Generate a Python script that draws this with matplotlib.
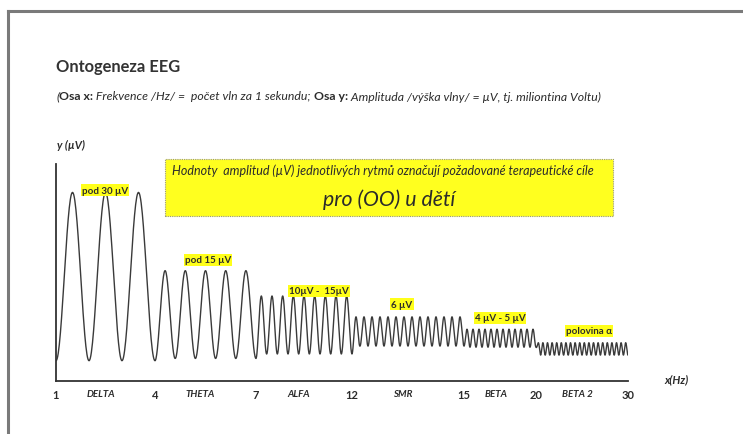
import numpy as np
import matplotlib
matplotlib.use("Agg")
import matplotlib.pyplot as plt
from matplotlib.patches import Rectangle
from matplotlib.lines import Line2D
import matplotlib.transforms as mtransforms

# ---------------- data ----------------
tick_hz = [1, 4, 7, 12, 15, 20, 30]
tick_labels = ["1", "4", "7", "12", "15", "20", "30"]
bands = ["DELTA", "THETA", "ALFA", "SMR", "BETA", "BETA 2"]
band_cycles = [3, 5, 9, 14, 12, 20]          # drawn waves per band
band_low = [3.6, 4.0, 4.8, 6.2, 6.0, 4.6]     # wave trough (µV)
band_high = [33.5, 19.6, 15.1, 11.4, 9.2, 6.8]  # wave crest (µV)
band_notes = ["pod 30 µV", "pod 15 µV", "10µV -  15µV", "6 µV", "4 µV - 5 µV", "polovina α"]

# ---------------- figure ----------------
W, H = 743, 435
fig = plt.figure(figsize=(W / 100, H / 100), dpi=100)
fig.patch.set_facecolor("white")
FONT = ["Lato", "DejaVu Sans"]
TXT = "#2b2b2b"

def fx(x):
    return x / W

def fy(y):
    return 1 - y / H

# page border (scan frame)
fig.add_artist(Line2D([fx(8), fx(8)], [fy(12), fy(435)], color="#7a7a7a", lw=2.2))
fig.add_artist(Line2D([fx(8), fx(743)], [fy(12), fy(12)], color="#7a7a7a", lw=2.2))

# titles
fig.text(fx(56), fy(67), "Ontogeneza EEG", fontsize=11.9, fontweight="bold",
         family=FONT, color="#333333", va="center", ha="left")
sub_parts = [("(", "normal", "italic"), ("Osa x:", "bold", "normal"),
             (" Frekvence /Hz/ =  počet vln za 1 sekundu; ", "normal", "italic"),
             ("Osa y:", "bold", "normal"),
             (" Amplituda /výška vlny/ = µV, tj. miliontina Voltu)", "normal", "italic")]
renderer = fig.canvas.get_renderer()
xcur = fx(56)
for s, w, st in sub_parts:
    t = fig.text(xcur, fy(97), s, fontsize=8.85, fontweight=w, fontstyle=st,
                 family=FONT, color=TXT, va="center", ha="left")
    bb = t.get_window_extent(renderer=renderer)
    xcur += bb.width / W

# axes
x0, x1 = 56, 628
ytop, ybot = 165, 382
ax = fig.add_axes([fx(x0), fy(ybot), (x1 - x0) / W, (ybot - ytop) / H])
pos = [0, 99, 200, 296, 408, 480, 572]

def fwd(v):
    return np.interp(v, tick_hz, pos)

def inv(v):
    return np.interp(v, pos, tick_hz)

ax.set_xscale("function", functions=(fwd, inv))
ax.set_xlim(tick_hz[0], tick_hz[-1])
px_per_uv = 5.63
ax.set_ylim(0, (ybot - ytop) / px_per_uv)

# wave
xs, ys = [], []
prev_low = band_low[0]
for i in range(len(bands)):
    lo_hz, hi_hz = tick_hz[i], tick_hz[i + 1]
    n = band_cycles[i]
    t = np.linspace(0, 1, 60 * n)
    low = prev_low + (band_low[i] - prev_low) * np.clip(t * n, 0, 1)
    y = low + (band_high[i] - low) * (1 - np.cos(2 * np.pi * n * t)) / 2
    xs.append(lo_hz + (hi_hz - lo_hz) * t)
    ys.append(y)
    prev_low = band_low[i]
ax.plot(np.concatenate(xs), np.concatenate(ys), color="#3a3a3a", lw=1.0)

for side in ["top", "right"]:
    ax.spines[side].set_visible(False)
for side in ["left", "bottom"]:
    ax.spines[side].set_color("#333333")
    ax.spines[side].set_linewidth(1.3)
ax.set_yticks([])
ax.set_xticks(tick_hz)
ax.set_xticklabels(tick_labels, fontsize=8, fontweight="bold", family=FONT, color=TXT)
ax.tick_params(axis="x", length=0, pad=6)
ax.set_facecolor("none")

# band labels
trans = mtransforms.blended_transform_factory(ax.transData, ax.transAxes)
for i, b in enumerate(bands):
    p = pos[i] + 0.45 * (pos[i + 1] - pos[i])
    ax.text(inv(p), -13 / (ybot - ytop), b, transform=trans, fontsize=7,
            fontstyle="italic", fontweight="bold", family=FONT, color=TXT,
            ha="center", va="center")

# axis labels
fig.text(fx(57), fy(145), "y (µV)", fontsize=8, fontweight="bold", fontstyle="italic",
         family=FONT, color=TXT, va="center", ha="left")
fig.text(fx(677), fy(380), "x(Hz)", fontsize=8, fontweight="bold", fontstyle="italic",
         family=FONT, color=TXT, va="center", ha="center")

# band amplitude notes
note_xy = [(105, 191), (208, 261), (319, 292), (402, 305), (500, 319), (589, 332)]
for s, (nx, ny) in zip(band_notes, note_xy):
    fig.text(fx(nx), fy(ny), s, fontsize=7, fontweight="bold", family=FONT,
             color=TXT, ha="center", va="center",
             bbox=dict(boxstyle="square,pad=0.12", facecolor="#ffff1a", edgecolor="none"))

# yellow info box
fig.add_artist(Rectangle((fx(165), fy(217)), (613 - 165) / W, (217 - 160) / H,
                         facecolor="#ffff1f", edgecolor="#9a9a7a", lw=0.8,
                         linestyle=(0, (1, 1)), transform=fig.transFigure))
fig.text(fx(172), fy(171), "Hodnoty  amplitud (µV) jednotlivých rytmů označují požadované terapeutické cíle",
         fontsize=9.0, fontstyle="italic", family=FONT, color=TXT, ha="left", va="center")
fig.text(fx(389), fy(200), "pro (OO) u dětí", fontsize=15.3, fontstyle="italic",
         family=FONT, color=TXT, ha="center", va="center")

fig.savefig("out.png", dpi=100)
